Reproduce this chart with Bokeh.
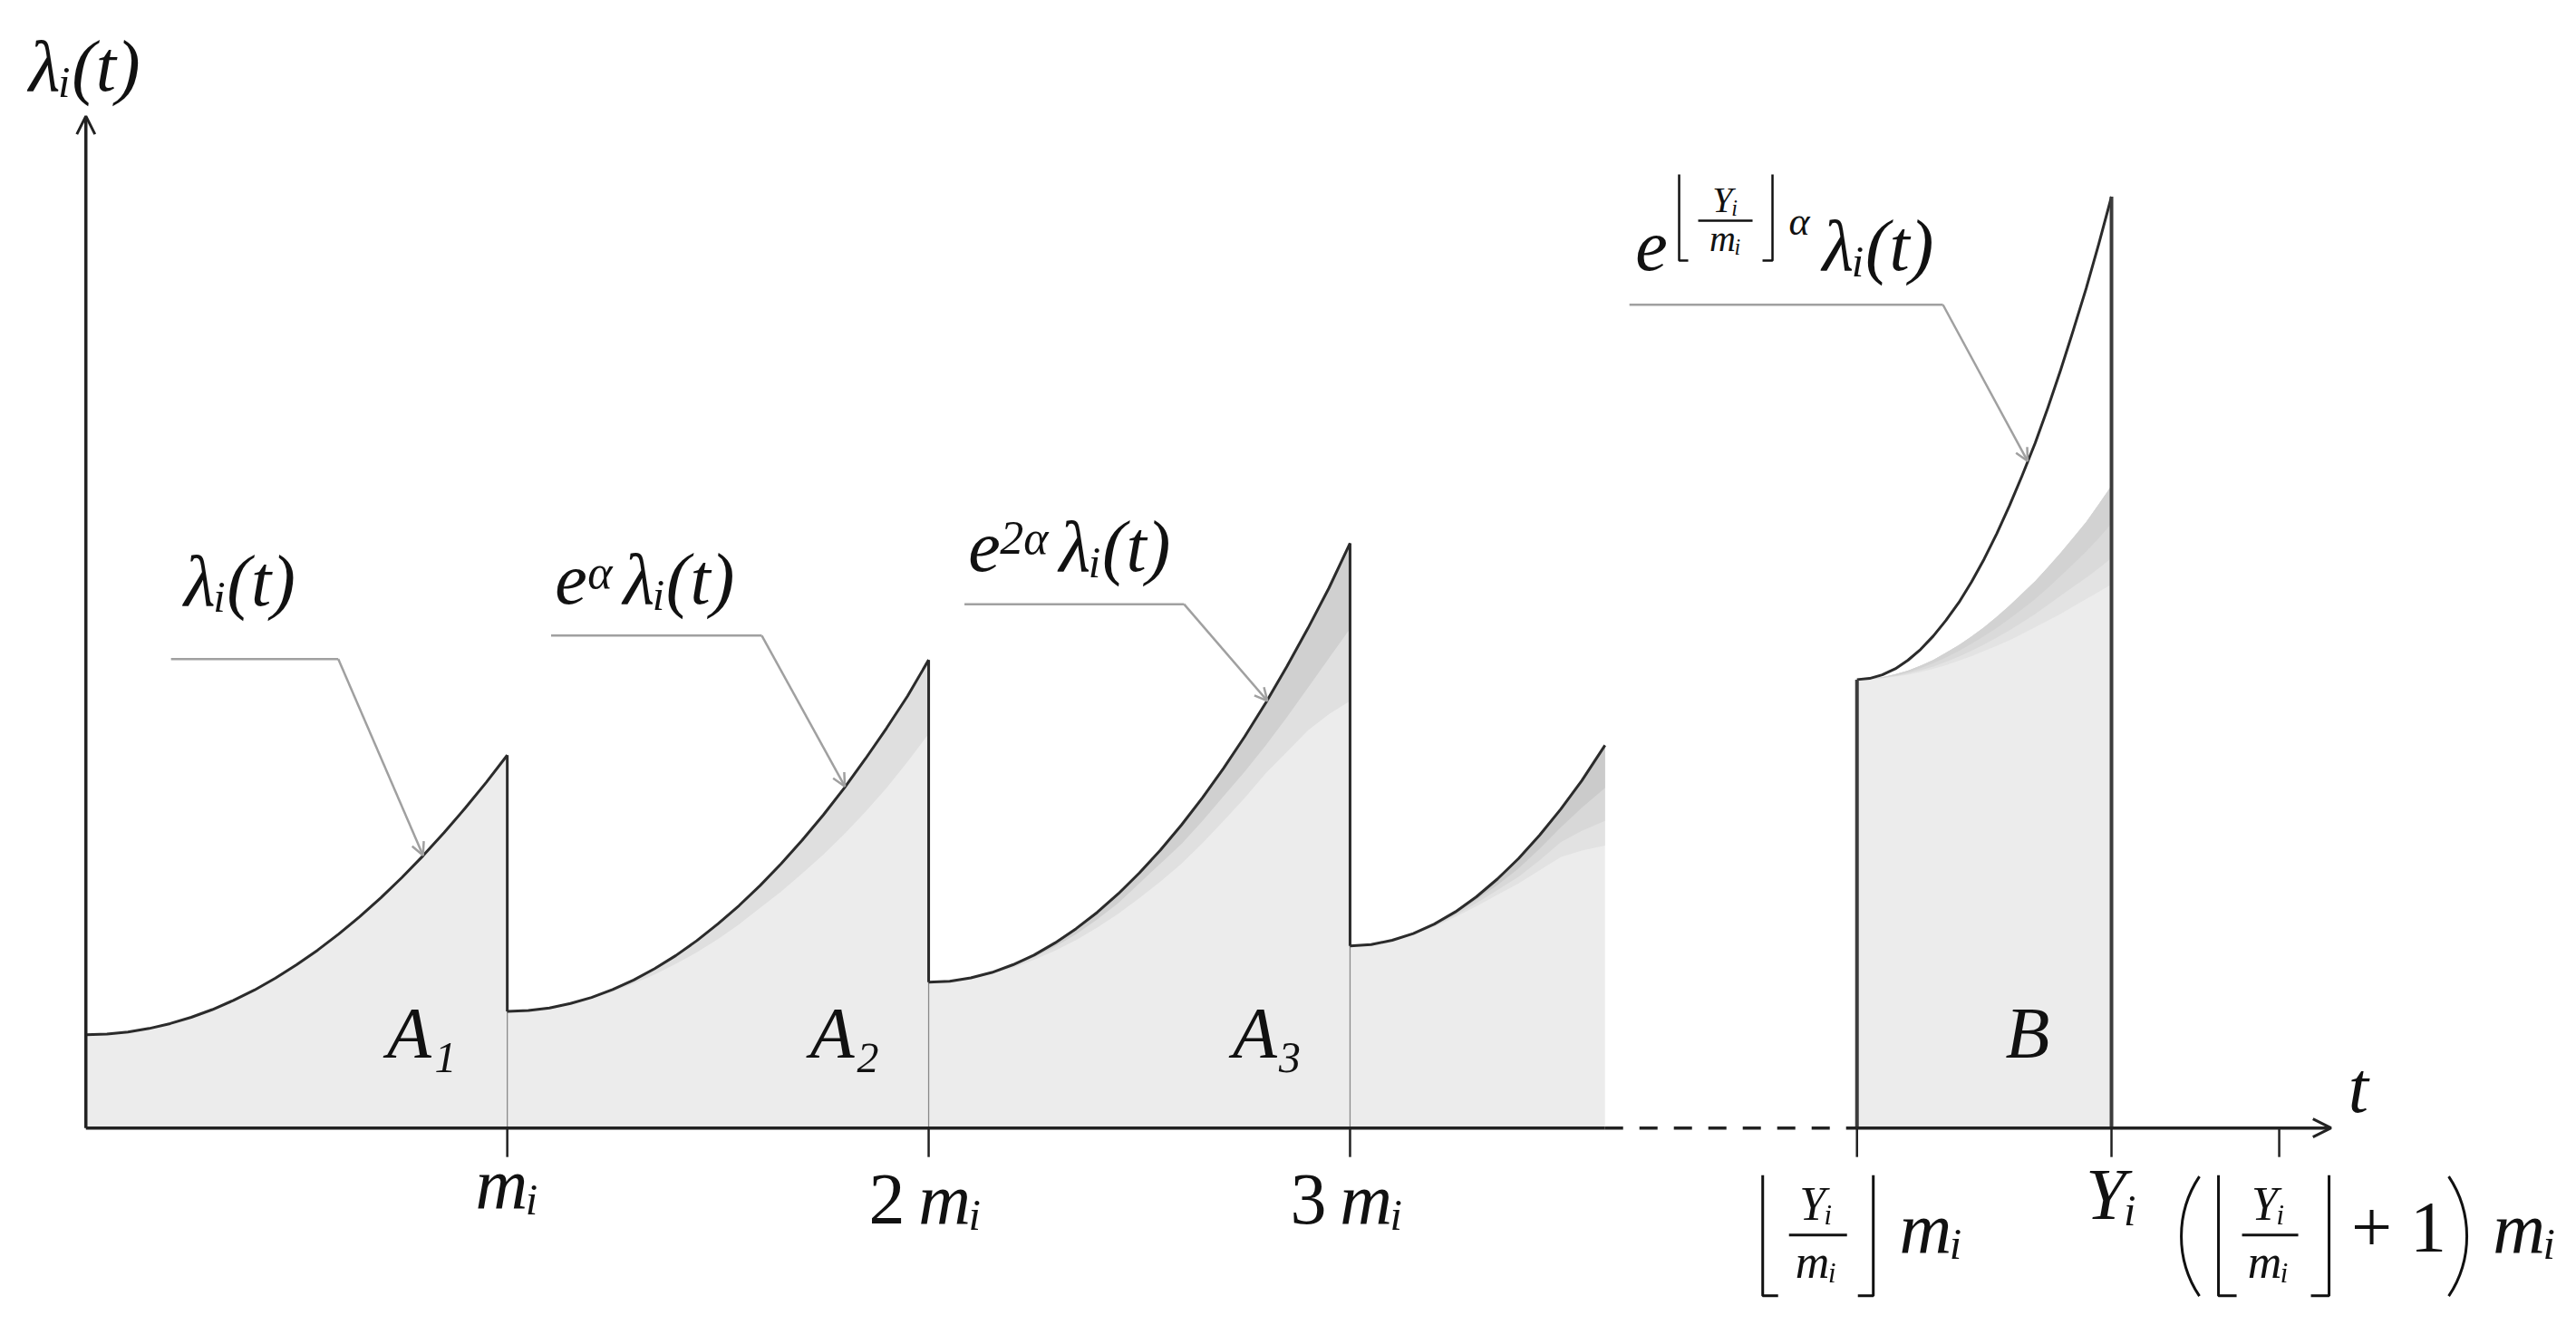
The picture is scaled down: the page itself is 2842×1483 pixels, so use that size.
from bokeh.plotting import figure
from bokeh.models import Range1d, Arrow, OpenHead
from bokeh.core.properties import value
from bokeh.embed import file_html
from bokeh.resources import INLINE

# ---------------- values ----------------
# t in units of m_i, intensity lambda in arbitrary units
seg1_t = [0.0, 0.05, 0.1, 0.15, 0.2, 0.25, 0.3, 0.35, 0.4, 0.45, 0.5,
          0.55, 0.6, 0.65, 0.7, 0.75, 0.8, 0.85, 0.9, 0.95, 1.0]
seg1_h = [0.568, 0.572, 0.585, 0.606, 0.636, 0.674, 0.721, 0.777, 0.840, 0.913, 0.994,
          1.083, 1.181, 1.287, 1.402, 1.525, 1.657, 1.798, 1.947, 2.104, 2.27]

seg2_t = [1.0, 1.05, 1.1, 1.15, 1.2, 1.25, 1.3, 1.35, 1.4, 1.45, 1.5,
          1.55, 1.6, 1.65, 1.7, 1.75, 1.8, 1.85, 1.9, 1.95, 2.0]
seg2_h = [0.71, 0.715, 0.731, 0.758, 0.795, 0.843, 0.901, 0.971, 1.05, 1.141, 1.243,
          1.354, 1.476, 1.609, 1.753, 1.906, 2.071, 2.248, 2.434, 2.630, 2.85]
seg2_band = [0.71, 0.715, 0.731, 0.755, 0.79, 0.83, 0.88, 0.935, 1.0, 1.07, 1.15,
             1.24, 1.34, 1.44, 1.55, 1.665, 1.79, 1.925, 2.07, 2.23, 2.40]

seg3_t = [2.0, 2.05, 2.1, 2.15, 2.2, 2.25, 2.3, 2.35, 2.4, 2.45, 2.5,
          2.55, 2.6, 2.65, 2.7, 2.75, 2.8, 2.85, 2.9, 2.95, 3.0]
seg3_h = [0.888, 0.894, 0.914, 0.947, 0.994, 1.053, 1.127, 1.214, 1.313, 1.426, 1.553,
          1.692, 1.845, 2.011, 2.191, 2.383, 2.589, 2.809, 3.042, 3.288, 3.56]
seg3_band1 = [0.888, 0.893, 0.912, 0.943, 0.985, 1.04, 1.105, 1.18, 1.27, 1.37, 1.49,
              1.61, 1.73, 1.87, 2.02, 2.17, 2.33, 2.50, 2.68, 2.86, 3.04]
seg3_band2 = [0.888, 0.892, 0.91, 0.94, 0.975, 1.025, 1.08, 1.145, 1.22, 1.305, 1.40,
              1.50, 1.61, 1.735, 1.87, 2.01, 2.16, 2.29, 2.42, 2.52, 2.60]

seg4_t = [3.0, 3.05, 3.1, 3.15, 3.2, 3.25, 3.3, 3.35, 3.4, 3.45, 3.5, 3.55, 3.605]
seg4_h = [1.109, 1.117, 1.143, 1.184, 1.242, 1.316, 1.408, 1.517, 1.641, 1.783, 1.941, 2.115, 2.33]
seg4_band1 = [1.109, 1.117, 1.14, 1.182, 1.235, 1.305, 1.39, 1.48, 1.58, 1.70, 1.83, 1.95, 2.07]
seg4_band2 = [1.109, 1.117, 1.14, 1.18, 1.23, 1.295, 1.37, 1.45, 1.53, 1.63, 1.74, 1.81, 1.87]
seg4_band3 = [1.109, 1.117, 1.14, 1.178, 1.225, 1.285, 1.35, 1.42, 1.49, 1.57, 1.65, 1.69, 1.72]

segB_t = [4.203, 4.233, 4.263, 4.294, 4.324, 4.354, 4.384, 4.414, 4.445, 4.475, 4.505,
          4.535, 4.565, 4.595, 4.626, 4.656, 4.686, 4.716, 4.747, 4.777, 4.807]
segB_h = [2.73, 2.737, 2.759, 2.796, 2.848, 2.914, 2.995, 3.090, 3.200, 3.325, 3.465,
          3.620, 3.789, 3.972, 4.171, 4.384, 4.612, 4.854, 5.112, 5.384, 5.67]
segB_band1 = [2.73, 2.736, 2.745, 2.762, 2.785, 2.815, 2.85, 2.893, 2.94, 2.993, 3.05,
              3.113, 3.18, 3.253, 3.33, 3.413, 3.50, 3.593, 3.69, 3.798, 3.91]
segB_band2 = [2.73, 2.735, 2.742, 2.756, 2.775, 2.80, 2.83, 2.865, 2.905, 2.948, 2.995,
              3.045, 3.10, 3.158, 3.22, 3.288, 3.36, 3.433, 3.51, 3.592, 3.68]
segB_band3 = [2.73, 2.734, 2.74, 2.751, 2.767, 2.787, 2.81, 2.838, 2.87, 2.906, 2.945,
              2.986, 3.03, 3.078, 3.13, 3.184, 3.24, 3.295, 3.35, 3.408, 3.47]
segB_band4 = [2.73, 2.733, 2.738, 2.748, 2.76, 2.776, 2.795, 2.818, 2.845, 2.873, 2.905,
              2.936, 2.97, 3.008, 3.05, 3.09, 3.13, 3.175, 3.22, 3.265, 3.31]

tick_t = [1.0, 2.0, 3.0, 4.203, 4.807, 5.205]
x_axis_end = 5.328
y_axis_end = 6.16

# leader lines (start of horizontal part, knee, height, arrow tip)
lead_x0 = [0.202, 1.104, 2.085, 3.663]
lead_xk = [0.599, 1.604, 2.606, 4.407]
lead_y = [2.855, 2.998, 3.189, 5.012]
lead_tip_t = [0.8, 1.801, 2.804, 4.608]
lead_tip_h = [1.66, 2.08, 2.60, 4.06]

# curve labels: anchor (centre, baseline)
ann_t = [0.365, 1.334, 2.343]
ann_h = [3.18, 3.19, 3.39]
ann_exp = ["", "α", "2α"]

area_text = ["A₁", "A₂", "A₃", "B"]
area_t = [0.797, 1.801, 2.804, 4.608]
area_h = [0.426, 0.426, 0.426, 0.426]

# ---------------- figure ----------------
W, H = 2826, 1467
UX, UY = 464.9, 181.25          # px per data unit
X0 = -0.20274
Y0 = -1.2293
p = figure(width=W, height=H, output_backend="svg", toolbar_location=None,
           x_range=Range1d(X0, X0 + W / UX), y_range=Range1d(Y0, Y0 + H / UY),
           x_axis_location=None, y_axis_location=None, min_border=0)
p.grid.visible = False
p.outline_line_color = None
p.background_fill_color = "white"
p.border_fill_color = "white"

BASE = "#ececec"
CURVE = "#2b2b2b"
FONT = value("Liberation Serif")
BIG = 80


def off(t0, h0, dx, dy):
    """position dx px right and dy px down from a data anchor"""
    return t0 + dx / UX, h0 - dy / UY


# ---- fills ----
for t, h in [(seg1_t, seg1_h), (seg2_t, seg2_h), (seg3_t, seg3_h), (seg4_t, seg4_h)]:
    p.varea(x=t, y1=0, y2=h, fill_color=BASE)
p.varea(x=seg2_t, y1=seg2_band, y2=seg2_h, fill_color="#dfdfdf")
p.varea(x=seg3_t, y1=seg3_band2, y2=seg3_h, fill_color="#e0e0e0")
p.varea(x=seg3_t, y1=seg3_band1, y2=seg3_h, fill_color="#d0d0d0")
p.varea(x=seg4_t, y1=seg4_band3, y2=seg4_h, fill_color="#e2e2e2")
p.varea(x=seg4_t, y1=seg4_band2, y2=seg4_h, fill_color="#d8d8d8")
p.varea(x=seg4_t, y1=seg4_band1, y2=seg4_h, fill_color="#cbcbcb")
p.varea(x=segB_t, y1=0, y2=segB_band1, fill_color=BASE)
p.varea(x=segB_t, y1=segB_band4, y2=segB_band1, fill_color="#e3e3e3")
p.varea(x=segB_t, y1=segB_band3, y2=segB_band1, fill_color="#dadada")
p.varea(x=segB_t, y1=segB_band2, y2=segB_band1, fill_color="#d2d2d2")

# thin verticals below the jumps
starts = [seg2_h[0], seg3_h[0], seg4_h[0]]
peaks = [seg1_h[-1], seg2_h[-1], seg3_h[-1]]
p.segment(x0=tick_t[:3], y0=0, x1=tick_t[:3], y1=starts, line_color="#8a8a8a", line_width=1.3)

# curves
for t, h in [(seg1_t, seg1_h), (seg2_t, seg2_h), (seg3_t, seg3_h), (seg4_t, seg4_h), (segB_t, segB_h)]:
    p.line(t, h, line_color=CURVE, line_width=3, line_join="round")
p.segment(x0=tick_t[:3], y0=peaks, x1=tick_t[:3], y1=starts, line_color=CURVE, line_width=3)
p.segment(x0=[segB_t[0], segB_t[-1]], y0=0, x1=[segB_t[0], segB_t[-1]],
          y1=[segB_h[0], segB_h[-1]], line_color="#3c3c3c", line_width=4)

# ---- axes ----
AX = "#222222"
p.segment(x0=[0], y0=[0], x1=[seg4_t[-1]], y1=[0], line_color=AX, line_width=3.5)
p.segment(x0=[seg4_t[-1]], y0=[0], x1=[segB_t[0]], y1=[0], line_color=AX, line_width=3.5,
          line_dash="20 18")
p.add_layout(Arrow(x_start=segB_t[0], y_start=0, x_end=x_axis_end, y_end=0,
                   line_color=AX, line_width=3.5,
                   end=OpenHead(size=20, line_color=AX, line_width=3)))
p.add_layout(Arrow(x_start=0, y_start=0, x_end=0, y_end=y_axis_end,
                   line_color=AX, line_width=3.5,
                   end=OpenHead(size=20, line_color=AX, line_width=3)))
p.segment(x0=tick_t, y0=0, x1=tick_t, y1=-32 / UY, line_color=AX, line_width=2.5)

# ---- leader lines ----
LG = "#a0a0a0"
p.segment(x0=lead_x0, y0=lead_y, x1=lead_xk, y1=lead_y, line_color=LG, line_width=2.5)
for i in range(len(lead_x0)):
    p.add_layout(Arrow(x_start=lead_xk[i], y_start=lead_y[i], x_end=lead_tip_t[i],
                       y_end=lead_tip_h[i], line_color=LG, line_width=2.5,
                       end=OpenHead(size=14, line_color=LG, line_width=2.5)))


# ---- texts ----
def txt(x, y, s, size, italic=True):
    # alphabetic baseline; small correction for the renderer's baseline placement
    p.text(x=[x], y=[y + 0.34 * size / UY], text=[s], text_font=FONT,
           text_font_style="italic" if italic else "normal",
           text_font_size=f"{size}px", text_align="center",
           text_baseline="alphabetic", text_color="#111111")


def brackets(pieces, width=3):
    xs, ys = [], []
    for pts in pieces:
        xs.append([q[0] for q in pts])
        ys.append([q[1] for q in pts])
    p.multi_line(xs, ys, line_color="#111111", line_width=width)


txt(*off(0, y_axis_end, -1.5, -28), "λᵢ(t)", BIG)
txt(*off(x_axis_end, 0, 30, -17), "t", BIG)

# curve labels  λᵢ(t),  e^α λᵢ(t),  e^{2α} λᵢ(t)
txt(ann_t[0], ann_h[0], "λᵢ(t)", BIG)
txt(*off(ann_t[1], ann_h[1], -85, 0), "e", BIG)
txt(*off(ann_t[1], ann_h[1], -53, -17), ann_exp[1], 52)
txt(*off(ann_t[1], ann_h[1], 34, 0), "λᵢ(t)", BIG)
txt(*off(ann_t[2], ann_h[2], -98, 0), "e", BIG)
txt(*off(ann_t[2], ann_h[2], -54, -19), ann_exp[2], 52)
txt(*off(ann_t[2], ann_h[2], 46, 0), "λᵢ(t)", BIG)

for s, t, h in zip(area_text, area_t, area_h):
    txt(t, h, s, BIG)

# simple tick labels
txt(*off(tick_t[0], 0, 0, 89), "mᵢ", BIG)
for k in (1, 2):
    txt(*off(tick_t[k], 0, -46, 106), "23"[k - 1], BIG, italic=False)
    txt(*off(tick_t[k], 0, 24, 106), "mᵢ", BIG)
txt(*off(tick_t[4], 0, 0, 101), "Yᵢ", BIG)

# floor(Y/m) m_i
T4 = tick_t[3]
brackets([[off(T4, 0, -104, 52), off(T4, 0, -104, 185), off(T4, 0, -87, 185)],
          [off(T4, 0, 18, 52), off(T4, 0, 18, 185), off(T4, 0, 1, 185)],
          [off(T4, 0, -75, 118), off(T4, 0, -11, 118)]])
txt(*off(T4, 0, -45, 101), "Yᵢ", 52)
txt(*off(T4, 0, -45, 165), "mᵢ", 52)
txt(*off(T4, 0, 82, 138), "mᵢ", BIG)

# (floor(Y/m)+1) m_i
T5 = tick_t[5]
brackets([[off(T5, 0, -67, 52), off(T5, 0, -67, 185), off(T5, 0, -47, 185)],
          [off(T5, 0, 55, 52), off(T5, 0, 55, 185), off(T5, 0, 35, 185)],
          [off(T5, 0, -41, 118), off(T5, 0, 21, 118)]])
txt(*off(T5, 0, -12, 101), "Yᵢ", 52)
txt(*off(T5, 0, -12, 165), "mᵢ", 52)
txt(*off(T5, 0, 132, 137), "+ 1", BIG, italic=False)
txt(*off(T5, 0, 271, 138), "mᵢ", BIG)
lx, ly = off(T5, 0, 11, 119.5)
rx, ry = off(T5, 0, 88, 119.5)
p.arc(x=[lx], y=[ly], radius=119, radius_units="screen", start_angle=2.5536,
      end_angle=3.7296, line_color="#111111", line_width=3)
p.arc(x=[rx], y=[ry], radius=119, radius_units="screen", start_angle=-0.588,
      end_angle=0.588, line_color="#111111", line_width=3)

# e^{floor(Y/m) alpha} lambda_i(t)
TB, HB = segB_t[-1], segB_h[-1]
txt(*off(TB, HB, -507.5, 81.5), "e", BIG)
brackets([[off(TB, HB, -477, -24.5), off(TB, HB, -477, 70.5), off(TB, HB, -467, 70.5)],
          [off(TB, HB, -374, -24.5), off(TB, HB, -374, 70.5), off(TB, HB, -385, 70.5)],
          [off(TB, HB, -456, 26.5), off(TB, HB, -396, 26.5)]], width=2.5)
txt(*off(TB, HB, -426, 17.5), "Yᵢ", 40)
txt(*off(TB, HB, -426, 60.5), "mᵢ", 40)
txt(*off(TB, HB, -344.5, 42.5), "α", 44)
txt(*off(TB, HB, -257.5, 81.5), "λᵢ(t)", BIG)

open("out.html", "w").write(file_html(p, INLINE))
